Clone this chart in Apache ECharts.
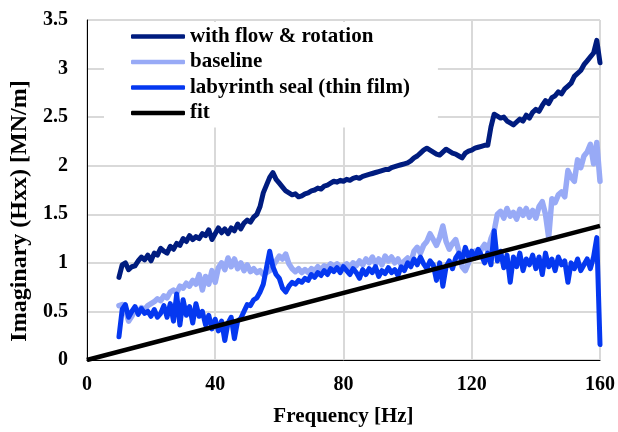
<!DOCTYPE html>
<html>
<head>
<meta charset="utf-8">
<script src="https://cdn.jsdelivr.net/npm/echarts@6/dist/echarts.min.js"></script>
<style>
  html, body { margin: 0; padding: 0; background: #ffffff; }
  #chart { width: 618px; height: 432px; }
</style>
</head>
<body>
<div id="chart"></div>
<script>
// Measured imaginary part of Hxx [MN/m], sampled every 1 Hz from 10 Hz to 160 Hz
const freqStart = 10;
const freqStep = 1;

const withFlowRotation = [
  0.85, 0.98, 1.00, 0.93, 0.96, 0.97, 1.02, 1.06, 1.03, 1.08,
  1.02, 1.10, 1.08, 1.15, 1.12, 1.10, 1.17, 1.14, 1.20, 1.18,
  1.25, 1.22, 1.28, 1.24, 1.27, 1.25, 1.30, 1.28, 1.34, 1.24,
  1.30, 1.36, 1.31, 1.35, 1.30, 1.36, 1.33, 1.40, 1.35, 1.41,
  1.44, 1.42, 1.47, 1.50, 1.58, 1.72, 1.80, 1.88, 1.93, 1.86,
  1.82, 1.78, 1.74, 1.72, 1.70, 1.71, 1.68, 1.69, 1.71, 1.72,
  1.74, 1.75, 1.77, 1.76, 1.79, 1.80, 1.82, 1.84, 1.83, 1.85,
  1.84, 1.86, 1.85, 1.87, 1.88, 1.87, 1.89, 1.90, 1.91, 1.92,
  1.93, 1.94, 1.95, 1.96, 1.96, 1.98, 1.99, 2.00, 2.01, 2.02,
  2.03, 2.05, 2.08, 2.10, 2.13, 2.16, 2.18, 2.16, 2.14, 2.12,
  2.11, 2.14, 2.17, 2.15, 2.13, 2.12, 2.10, 2.08, 2.13, 2.15,
  2.16, 2.18, 2.19, 2.20, 2.21, 2.21, 2.40, 2.53, 2.51, 2.49,
  2.50, 2.46, 2.44, 2.42, 2.45, 2.48, 2.46, 2.52, 2.49, 2.55,
  2.58, 2.56, 2.62, 2.67, 2.64, 2.70, 2.72, 2.76, 2.74, 2.79,
  2.82, 2.85, 2.92, 2.95, 2.98, 3.04, 3.08, 3.12, 3.16, 3.29,
  3.06
];

const baseline = [
  0.56, 0.57, 0.52, 0.40, 0.45, 0.52, 0.50, 0.54, 0.52, 0.56,
  0.58, 0.60, 0.63, 0.61, 0.66, 0.64, 0.70, 0.72, 0.69, 0.76,
  0.74, 0.79, 0.76, 0.82, 0.78, 0.88, 0.72, 0.86, 0.78, 0.92,
  0.80, 0.95, 1.00, 0.93, 1.05, 0.96, 1.04, 0.94, 1.00, 0.92,
  0.98, 0.91, 0.94, 0.90, 0.92, 0.88, 0.90, 0.92, 0.97, 1.02,
  1.07, 1.04, 1.09, 0.99, 0.94, 0.91, 0.94, 0.90, 0.93, 0.90,
  0.94, 0.92, 0.96, 0.93, 0.97, 0.95, 0.99, 0.96, 0.99, 0.95,
  0.97, 0.99, 0.95, 1.00, 0.97, 1.02, 0.98, 1.04, 1.00, 1.06,
  0.99, 1.04, 0.98, 1.07, 1.02, 1.06, 1.00, 1.04, 0.98, 1.02,
  1.05, 1.00, 1.12, 1.16, 1.10, 1.18, 1.22, 1.30, 1.24, 1.18,
  1.26, 1.38, 1.22, 1.14, 1.20, 1.24, 1.12, 0.96, 0.92, 1.00,
  1.08, 1.12, 1.06, 1.14, 1.19, 1.12, 1.25, 1.33, 1.50, 1.53,
  1.46, 1.56, 1.48, 1.52, 1.45, 1.55, 1.49, 1.56, 1.47, 1.54,
  1.46, 1.58, 1.63, 1.50, 1.26, 1.66, 1.62, 1.70, 1.73, 1.68,
  1.95, 1.88, 1.84, 2.06, 1.98, 2.10, 2.14, 2.22, 2.02, 2.24,
  1.84
];

const labyrinthSeal = [
  0.24, 0.52, 0.57, 0.44, 0.50, 0.55, 0.47, 0.53, 0.48, 0.50,
  0.45, 0.52, 0.44, 0.48, 0.56, 0.44, 0.58, 0.40, 0.68, 0.36,
  0.62, 0.46, 0.55, 0.38, 0.58, 0.45, 0.50, 0.36, 0.46, 0.32,
  0.42, 0.30, 0.40, 0.20, 0.38, 0.44, 0.22, 0.40, 0.43, 0.50,
  0.57, 0.56, 0.62, 0.64, 0.70, 0.78, 0.95, 1.12, 0.96, 0.88,
  0.84, 0.74, 0.70, 0.76, 0.80, 0.78, 0.82, 0.80, 0.84, 0.82,
  0.88, 0.85, 0.90, 0.87, 0.92, 0.88, 0.94, 0.91, 0.95, 0.90,
  0.96, 0.92, 0.88, 0.94, 0.90, 0.84, 0.93, 0.88, 0.94, 0.90,
  0.96, 0.86, 0.92, 0.89, 0.95, 0.90, 0.93, 0.87, 0.96, 0.92,
  1.00, 0.96, 1.04, 0.98, 1.06, 0.99, 0.94, 1.02, 0.98, 0.82,
  1.00, 0.76, 0.96, 1.02, 0.94, 1.05, 1.10, 1.02, 1.16, 1.06,
  1.12, 1.05, 1.14, 1.08, 1.00, 1.10, 0.98, 1.33, 1.02, 1.12,
  0.95, 1.08, 0.80, 1.06, 0.96, 1.10, 0.92, 1.04, 0.98, 1.08,
  0.94, 1.06, 0.88, 1.10, 0.96, 1.04, 0.92, 1.06, 0.98, 1.02,
  0.80, 1.00, 0.94, 1.04, 0.92, 0.98, 1.04, 0.94, 1.06, 1.26,
  0.16
];

// Linear fit through the origin
const fitFreq = [0, 160];
const fitValues = [0, 1.38];

const xTicks = [0, 40, 80, 120, 160];
const yTicks = [0, 0.5, 1, 1.5, 2, 2.5, 3, 3.5];

const seriesNames = ['with flow & rotation', 'baseline', 'labyrinth seal (thin film)', 'fit'];
const seriesColors = ['#001C7F', '#98AAF6', '#0538F0', '#000000'];

const toPairs = (vals) => vals.map((v, i) => [freqStart + i * freqStep, v]);

const serif = '"Liberation Serif", "Times New Roman", serif';
const boldText = (size) => ({
  fontFamily: serif,
  fontWeight: 'bold',
  fontSize: size,
  color: '#000000'
});

const chart = echarts.init(document.getElementById('chart'), null, { renderer: 'canvas' });

chart.setOption({
  animation: false,
  backgroundColor: '#ffffff',
  grid: { left: 86, right: 14, top: 20, bottom: 69, containLabel: false },
  legend: {
    orient: 'vertical',
    left: 104,
    top: 22,
    padding: [4, 28, 4, 27],
    backgroundColor: '#ffffff',
    itemWidth: 54,
    itemHeight: 4.5,
    itemGap: 4.5,
    icon: 'roundRect',
    data: seriesNames,
    textStyle: Object.assign(boldText(21), { lineHeight: 21 })
  },
  xAxis: {
    type: 'value',
    min: xTicks[0],
    max: xTicks[xTicks.length - 1],
    interval: 40,
    name: 'Frequency [Hz]',
    nameLocation: 'middle',
    nameGap: 46,
    nameTextStyle: boldText(21),
    axisLine: { show: true, onZero: false, lineStyle: { color: '#000000', width: 1 } },
    axisTick: { show: false },
    axisLabel: Object.assign({ margin: 15 }, boldText(20)),
    splitLine: { show: true, lineStyle: { color: '#D9D9D9', width: 2 } }
  },
  yAxis: {
    type: 'value',
    min: yTicks[0],
    max: yTicks[yTicks.length - 1],
    interval: 0.5,
    name: 'Imaginary (Hxx) [MN/m]',
    nameLocation: 'middle',
    nameGap: 51,
    nameTextStyle: Object.assign(boldText(24), { padding: [0, 42, 0, 0] }),
    axisLine: { show: true, lineStyle: { color: '#000000', width: 1 } },
    axisTick: { show: false },
    axisLabel: Object.assign({ margin: 19 }, boldText(20)),
    splitLine: { show: true, lineStyle: { color: '#D9D9D9', width: 2 } }
  },
  series: [
    {
      name: seriesNames[0],
      type: 'line',
      data: toPairs(withFlowRotation),
      showSymbol: false,
      symbol: 'none',
      lineStyle: { color: seriesColors[0], width: 5, join: 'round', cap: 'round' },
      itemStyle: { color: seriesColors[0] }
    },
    {
      name: seriesNames[1],
      type: 'line',
      data: toPairs(baseline),
      showSymbol: false,
      symbol: 'none',
      lineStyle: { color: seriesColors[1], width: 5.5, join: 'round', cap: 'round' },
      itemStyle: { color: seriesColors[1] }
    },
    {
      name: seriesNames[2],
      type: 'line',
      data: toPairs(labyrinthSeal),
      showSymbol: false,
      symbol: 'none',
      lineStyle: { color: seriesColors[2], width: 5, join: 'round', cap: 'round' },
      itemStyle: { color: seriesColors[2] }
    },
    {
      name: seriesNames[3],
      type: 'line',
      data: fitFreq.map((f, i) => [f, fitValues[i]]),
      showSymbol: false,
      symbol: 'none',
      lineStyle: { color: seriesColors[3], width: 4.5 },
      itemStyle: { color: seriesColors[3] }
    }
  ]
});
</script>
</body>
</html>
